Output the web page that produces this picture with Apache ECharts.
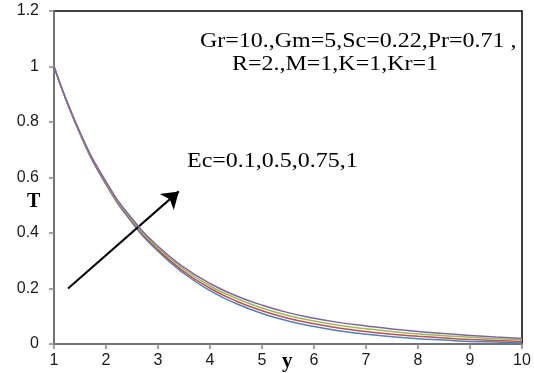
<!DOCTYPE html>
<html><head><meta charset="utf-8">
<script src="https://cdn.jsdelivr.net/npm/echarts@6/dist/echarts.min.js"></script>
<style>html,body{margin:0;padding:0;background:#fff}#c{width:534px;height:373px}</style>
</head><body><div id="c"></div>
<script>
const yVals = [1, 1.5, 2, 2.5, 3, 3.5, 4, 4.5, 5, 5.5, 6, 6.5, 7, 7.5, 8, 8.5, 9, 9.5, 10];
const T_Ec01  = [1, 0.757, 0.575, 0.438, 0.334, 0.254, 0.192, 0.146, 0.110, 0.083, 0.063, 0.047, 0.035, 0.026, 0.019, 0.014, 0.009, 0.007, 0.004];
const T_Ec05  = [1, 0.759, 0.578, 0.443, 0.340, 0.261, 0.201, 0.155, 0.120, 0.093, 0.073, 0.057, 0.045, 0.035, 0.028, 0.022, 0.016, 0.013, 0.009];
const T_Ec075 = [1, 0.761, 0.582, 0.447, 0.346, 0.269, 0.209, 0.165, 0.130, 0.103, 0.083, 0.067, 0.055, 0.045, 0.036, 0.030, 0.024, 0.019, 0.015];
const T_Ec1   = [1, 0.763, 0.585, 0.452, 0.352, 0.276, 0.218, 0.174, 0.140, 0.113, 0.093, 0.077, 0.065, 0.054, 0.045, 0.038, 0.031, 0.025, 0.020];
const xTicks = [1,2,3,4,5,6,7,8,9,10];
const yTicks = [0,0.2,0.4,0.6,0.8,1,1.2];
const arrowStart = [1.27, 0.2];
const arrowEnd = [3.4, 0.55];
const paramText1 = 'Gr=10.,Gm=5,Sc=0.22,Pr=0.71 ,';
const paramText2 = 'R=2.,M=1,K=1,Kr=1';
const ecText = 'Ec=0.1,0.5,0.75,1';

const colors = ['#4F81BD','#C0504D','#9BBB59','#8064A2'];
const seriesData = [T_Ec01, T_Ec05, T_Ec075, T_Ec1];
const pair = arr => yVals.map((x,i)=>[x,arr[i]]);

const series = seriesData.map((d,i)=>({
  type:'line', data: pair(d), smooth:true, showSymbol:false,
  lineStyle:{color:colors[i], width:1.5}, z: 2+i, silent:true
}));
series.push({
  type:'line', data:[], silent:true,
  markLine:{
    silent:true, symbol:['none','arrow'], symbolSize:16,
    label:{show:false},
    lineStyle:{color:'#000', width:2, type:'solid'},
    data:[[{coord:arrowStart},{coord:arrowEnd}]]
  }
});

const chart = echarts.init(document.getElementById('c'));
chart.setOption({
  animation:false,
  grid:{left:54, right:12, top:11, bottom:29, show:true, borderColor:'#000', borderWidth:1.5},
  xAxis:{type:'value', min:1, max:10, interval:1,
    axisLine:{lineStyle:{color:'#868686', width:1.5}},
    axisTick:{show:true, length:5, lineStyle:{color:'#868686', width:1.5}},
    axisLabel:{color:'#1a1a1a', fontFamily:'Liberation Sans', fontSize:16, margin:9},
    splitLine:{show:false}},
  yAxis:{type:'value', min:0, max:1.2, interval:0.2,
    axisLine:{show:true, lineStyle:{color:'#868686', width:1.5}},
    axisTick:{show:true, length:5, lineStyle:{color:'#868686', width:1.5}},
    axisLabel:{color:'#1a1a1a', fontFamily:'Liberation Sans', fontSize:16, margin:15,
      formatter: v => yTicks.includes(+v.toFixed(1)) ? String(+v.toFixed(1)) : ''},
    splitLine:{show:false}},
  graphic:[
    {type:'text', left:27, top:192, style:{text:'T', font:'bold 20px "Liberation Serif"', fill:'#000'}},
    {type:'text', left:282, top:351, style:{text:'y', font:'bold 21px "Liberation Serif"', fill:'#000'}},
    {type:'text', x:200, y:30, scaleX:1.09, style:{text:paramText1, font:'22px "Liberation Serif"', fill:'#000'}},
    {type:'text', x:232, y:53, scaleX:1.09, style:{text:paramText2, font:'22px "Liberation Serif"', fill:'#000'}},
    {type:'text', x:187, y:150, scaleX:1.09, style:{text:ecText, font:'22px "Liberation Serif"', fill:'#000'}}
  ],
  series
});
</script></body></html>
